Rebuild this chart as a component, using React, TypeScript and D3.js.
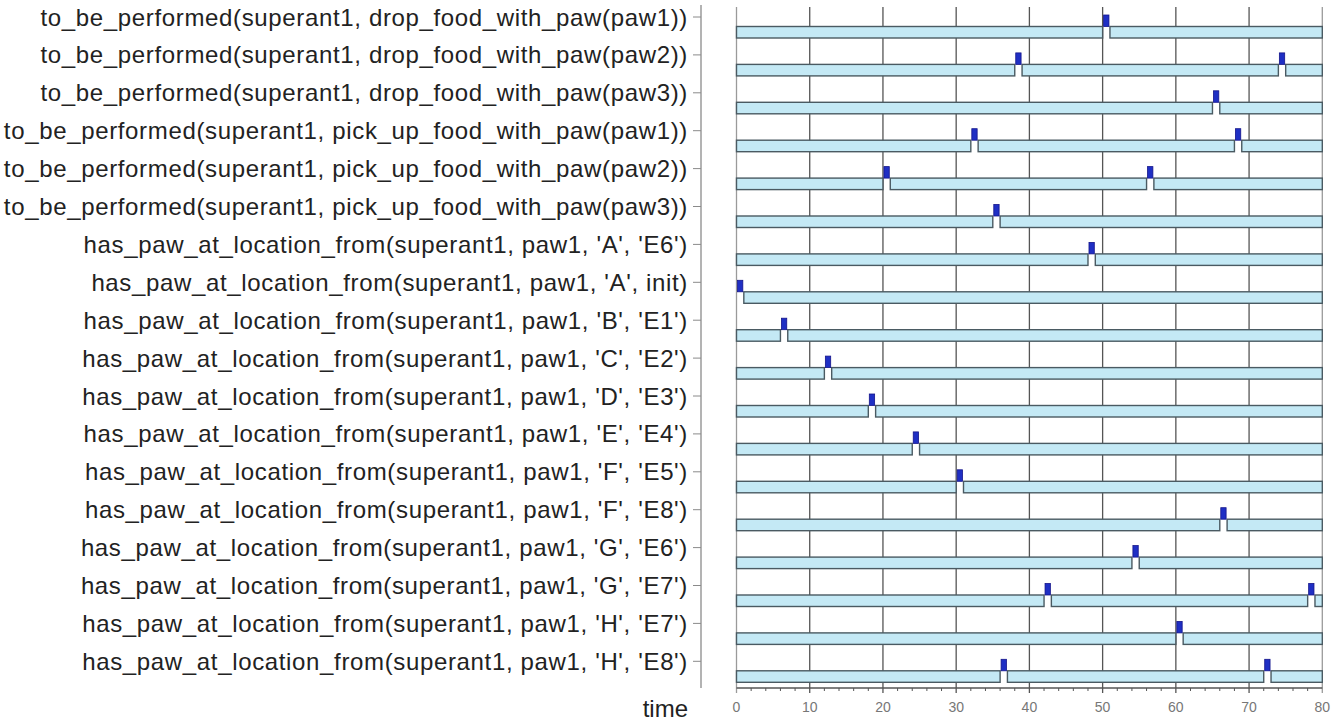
import React from "react";
import * as d3 from "d3";

const rowLabels: string[] = [
  "to_be_performed(superant1, drop_food_with_paw(paw1))",
  "to_be_performed(superant1, drop_food_with_paw(paw2))",
  "to_be_performed(superant1, drop_food_with_paw(paw3))",
  "to_be_performed(superant1, pick_up_food_with_paw(paw1))",
  "to_be_performed(superant1, pick_up_food_with_paw(paw2))",
  "to_be_performed(superant1, pick_up_food_with_paw(paw3))",
  "has_paw_at_location_from(superant1, paw1, 'A', 'E6')",
  "has_paw_at_location_from(superant1, paw1, 'A', init)",
  "has_paw_at_location_from(superant1, paw1, 'B', 'E1')",
  "has_paw_at_location_from(superant1, paw1, 'C', 'E2')",
  "has_paw_at_location_from(superant1, paw1, 'D', 'E3')",
  "has_paw_at_location_from(superant1, paw1, 'E', 'E4')",
  "has_paw_at_location_from(superant1, paw1, 'F', 'E5')",
  "has_paw_at_location_from(superant1, paw1, 'F', 'E8')",
  "has_paw_at_location_from(superant1, paw1, 'G', 'E6')",
  "has_paw_at_location_from(superant1, paw1, 'G', 'E7')",
  "has_paw_at_location_from(superant1, paw1, 'H', 'E7')",
  "has_paw_at_location_from(superant1, paw1, 'H', 'E8')",
];

// time points at which each atom is true (for one time unit)
const trueTimes: number[][] = [
  [50],
  [38, 74],
  [65],
  [32, 68],
  [20, 56],
  [35],
  [48],
  [0],
  [6],
  [12],
  [18],
  [24],
  [30],
  [66],
  [54],
  [42, 78],
  [60],
  [36, 72],
];

const timeDomain: [number, number] = [0, 80];
const majorTicks: number[] = [0, 10, 20, 30, 40, 50, 60, 70, 80];
const axisTitle = "time";

export default function App() {
  const W = 1343;
  const H = 722;
  const x = d3.scaleLinear().domain(timeDomain).range([736.5, 1322.3]);
  const y = d3
    .scaleBand<string>()
    .domain(rowLabels)
    .range([2, 2 + 18 * 37.9])
    .padding(0);
  const axisY = 688;
  const yAxisX = 701;
  const minorTicks = d3.range(timeDomain[0], timeDomain[1] + 0.001, 2).filter((t) => t % 10 !== 0);
  const font = "'Liberation Sans', Arial, Helvetica, sans-serif";
  const lowH = 11.5;

  return (
    <svg width={W} height={H} style={{ position: "absolute", left: 0, top: 0, background: "#fff" }}>
      <rect x={0} y={0} width={W} height={H} fill="#fff" />
      {/* y axis */}
      <line x1={yAxisX} x2={yAxisX} y1={5} y2={axisY} stroke="#9a9a9a" strokeWidth={1.5} />
      {rowLabels.map((l) => {
        const cy = (y(l) as number) + 15;
        return (
          <g key={"lab" + l}>
            <line x1={yAxisX - 8} x2={yAxisX} y1={cy} y2={cy} stroke="#8a8a8a" strokeWidth={1} />
            <text
              x={688}
              y={cy}
              textAnchor="end"
              dominantBaseline="central"
              fontFamily={font}
              fontSize={24}
              letterSpacing={0.65}
              fill="#222"
            >
              {l}
            </text>
          </g>
        );
      })}
      {/* grid lines */}
      {majorTicks.map((t) => (
        <line
          key={"g" + t}
          x1={x(t)}
          x2={x(t)}
          y1={7}
          y2={axisY + 5}
          stroke={t === 0 || t === 80 ? "#9a9a9a" : "#555"}
          strokeWidth={1.3}
        />
      ))}
      {/* bars */}
      {rowLabels.map((l, i) => {
        const top = (y(l) as number) + 24.5;
        const times = trueTimes[i];
        const segs: [number, number][] = [];
        let start = timeDomain[0];
        times.forEach((t) => {
          if (t > start) segs.push([start, t]);
          start = t + 1;
        });
        if (start < timeDomain[1]) segs.push([start, timeDomain[1]]);
        return (
          <g key={"row" + i}>
            {segs.map(([a, b], j) => (
              <rect
                key={j}
                x={x(a)}
                y={top}
                width={x(b) - x(a)}
                height={lowH}
                fill="#c4e9f5"
                stroke="#4a5a62"
                strokeWidth={1.4}
              />
            ))}
            {times.map((t, j) => (
              <rect
                key={"b" + j}
                x={x(t) + 1}
                y={top - lowH}
                width={x(t + 1) - x(t) - 2}
                height={lowH}
                fill="#1f2fc4"
                stroke="#14148a"
                strokeWidth={0.8}
              />
            ))}
          </g>
        );
      })}
      {/* x axis */}
      <line x1={x(0)} x2={x(80)} y1={axisY} y2={axisY} stroke="#555" strokeWidth={1.3} />
      {minorTicks.map((t) => (
        <line key={"m" + t} x1={x(t)} x2={x(t)} y1={axisY} y2={axisY + 3} stroke="#555" strokeWidth={1} />
      ))}
      {majorTicks.map((t) => (
        <text
          key={"t" + t}
          x={x(t)}
          y={707}
          textAnchor="middle"
          dominantBaseline="central"
          fontFamily={font}
          fontSize={14}
          fill="#777"
        >
          {t}
        </text>
      ))}
      <text
        x={688}
        y={708}
        textAnchor="end"
        dominantBaseline="central"
        fontFamily={font}
        fontSize={24}
        fill="#222"
      >
        {axisTitle}
      </text>
    </svg>
  );
}
